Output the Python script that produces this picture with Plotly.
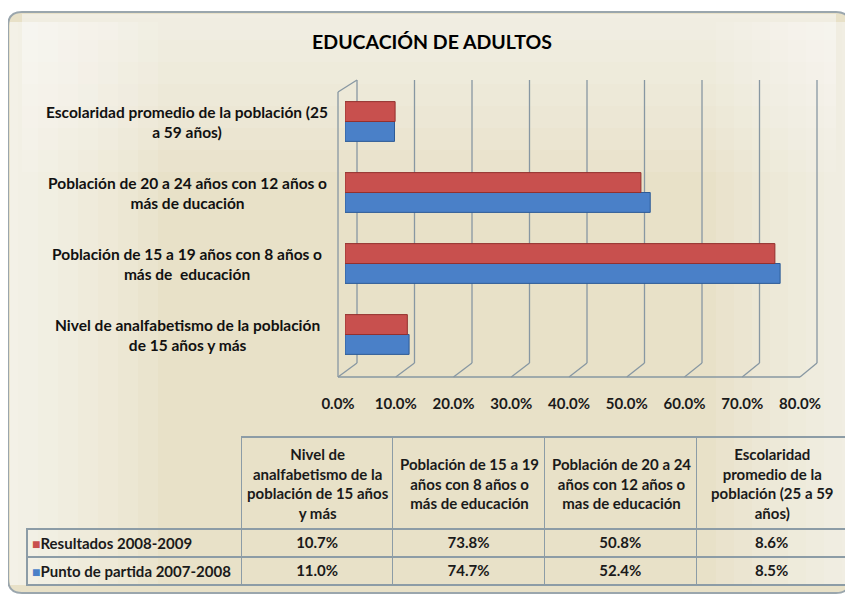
import plotly.graph_objects as go

chart_labels = [
    "Nivel de analfabetismo de la población<br>de 15 años y más",
    "Población de 15 a 19 años con 8 años o<br>más de  educación",
    "Población de 20 a 24 años con 12 años o<br>más de ducación",
    "Escolaridad promedio de la población (25<br>a 59 años)",
]
table_headers = [
    "Nivel de<br>analfabetismo de la<br>población de 15 años<br>y más",
    "Población de 15 a 19<br>años con 8 años o<br>más de educación",
    "Población de 20 a 24<br>años con 12 años o<br>mas de educación",
    "Escolaridad<br>promedio de la<br>población (25 a 59<br>años)",
]
series_names = ["Resultados 2008-2009", "Punto de partida 2007-2008"]
resultados = [10.7, 73.8, 50.8, 8.6]
punto_partida = [11.0, 74.7, 52.4, 8.5]
x_ticks = [0.0, 0.1, 0.2, 0.3, 0.4, 0.5, 0.6, 0.7, 0.8]

RED = "#c8504e"
BLUE = "#4a80c8"
GRID = "#8797a2"
FONT = "Lato"

W, H = 853, 598
OFF = 8  # margen de la pagina


def px(x):
    return (x - OFF) / W


def py(y):
    return 1 - (y - OFF) / H


fig = go.Figure()

# primero la serie azul para que quede abajo en cada grupo
fig.add_trace(go.Bar(
    y=chart_labels, x=[v / 100 for v in punto_partida], orientation="h",
    name=series_names[1], marker=dict(color=BLUE, line=dict(color="#2d5b96", width=1)),
))
fig.add_trace(go.Bar(
    y=chart_labels, x=[v / 100 for v in resultados], orientation="h",
    name=series_names[0], marker=dict(color=RED, line=dict(color="#93302e", width=1)),
))
# eje auxiliar solo para las etiquetas del plano frontal
fig.add_trace(go.Scatter(
    x=x_ticks, y=[chart_labels[0]] * len(x_ticks), xaxis="x2", mode="markers",
    marker=dict(opacity=0), hoverinfo="skip", showlegend=False,
))

# tabla de datos (encabezados y nombres de serie van como anotaciones)
fmt = lambda vals: [f"{v:.1f}%" for v in vals]
line_col = "#8c9ca6"
col_w = [215, 151, 152, 152, 151]
tab_left, tab_top, head_h, row_h = 27, 437, 92, 28
tfont = dict(family=FONT, size=15, color="#1a1a1a", weight="bold")
fig.add_trace(go.Table(
    domain=dict(x=[px(tab_left), px(tab_left + sum(col_w))], y=[py(592), py(tab_top)]),
    columnwidth=col_w,
    header=dict(
        values=[""] * 5,
        fill_color="rgba(0,0,0,0)",
        line=dict(color=["rgba(0,0,0,0)"] + [line_col] * 4, width=1.2),
        height=head_h,
    ),
    cells=dict(
        values=[
            [""] * len(series_names),
            *[[a, b] for a, b in zip(fmt(resultados), fmt(punto_partida))],
        ],
        fill_color="rgba(0,0,0,0)",
        line=dict(color=line_col, width=1.2),
        font=tfont, align="center", height=row_h,
    ),
))

# fondo redondeado
shapes = []
x0, y0, x1, y1, r = px(8), py(12), px(850), py(593), 14
rx, ry = r / W, r / H
path = (f"M {x0+rx},{y0} L {x1-rx},{y0} Q {x1},{y0} {x1},{y0-ry} "
        f"L {x1},{y1+ry} Q {x1},{y1} {x1-rx},{y1} L {x0+rx},{y1} "
        f"Q {x0},{y1} {x0},{y1+ry} L {x0},{y0-ry} Q {x0},{y0} {x0+rx},{y0} Z")
shapes.append(dict(type="path", path=path, xref="paper", yref="paper", layer="below",
                   fillcolor="#e8e1c8", line=dict(color="#9aa6ad", width=2)))
# degradado claro hacia los bordes
for i in range(8):
    shapes.append(dict(type="rect", xref="paper", yref="paper", layer="below",
                       x0=px(10), x1=px(18 + i * 20), y0=py(585), y1=py(22),
                       fillcolor="white", opacity=0.11, line_width=0))
    shapes.append(dict(type="rect", xref="paper", yref="paper", layer="below",
                       x0=px(842 - i * 18), x1=px(848), y0=py(585), y1=py(22),
                       fillcolor="white", opacity=0.09, line_width=0))
    shapes.append(dict(type="rect", xref="paper", yref="paper", layer="below",
                       x0=px(22), x1=px(836), y0=py(14), y1=py(18 + i * 22),
                       fillcolor="white", opacity=0.09, line_width=0))


# paredes y rejilla en perspectiva
def front_x(v):
    return 338 + v / 0.8 * 462


def back_x(v):
    return 357 + v / 0.8 * 460


def seg(xa, ya, xb, yb):
    return dict(type="line", xref="paper", yref="paper", layer="below",
                x0=px(xa), y0=py(ya), x1=px(xb), y1=py(yb),
                line=dict(color=GRID, width=1.3))


for v in x_ticks:
    shapes.append(seg(back_x(v), 363, back_x(v), 80))
    shapes.append(seg(front_x(v), 377, back_x(v), 363))
shapes.append(seg(front_x(0), 377, front_x(0.8), 377))
shapes.append(seg(front_x(0), 377, front_x(0), 92))
shapes.append(seg(front_x(0), 92, back_x(0), 80))

annotations = [
    dict(x=px(187), y=lab, xref="paper", yref="y", text=lab,
         showarrow=False, xanchor="center", align="center",
         font=dict(family=FONT, size=15.5, color="#111", weight="bold"))
    for lab in chart_labels
]
# encabezados de la tabla
edge = tab_left + col_w[0]
for head, w in zip(table_headers, col_w[1:]):
    annotations.append(dict(x=px(edge + w / 2), y=py(tab_top + head_h / 2), xref="paper",
                            yref="paper", text=head, showarrow=False, align="center",
                            xanchor="center", yanchor="middle", font=tfont))
    edge += w
# nombres de serie con su cuadro de color
for i, (c, n) in enumerate(zip([RED, BLUE], series_names)):
    annotations.append(dict(
        x=px(30), y=py(tab_top + head_h + row_h / 2 + row_h * i), xref="paper", yref="paper",
        text=f"<span style='color:{c};font-size:14px'>■</span>{n}", showarrow=False,
        xanchor="left", yanchor="middle", font=tfont))

fig.update_layout(
    width=W, height=H,
    margin=dict(l=0, r=0, t=0, b=0, autoexpand=False),
    paper_bgcolor="white", plot_bgcolor="rgba(0,0,0,0)",
    showlegend=False,
    barmode="group", bargap=0.44, bargroupgap=0,
    title=dict(text="EDUCACIÓN DE ADULTOS", x=px(432), y=py(42),
               xanchor="center", yanchor="middle",
               font=dict(family=FONT, size=19.5, color="#000", weight="bold")),
    xaxis=dict(domain=[px(345), px(811)], range=[0, 0.8], showgrid=False, automargin=False,
               zeroline=False, showticklabels=False, showline=False),
    xaxis2=dict(domain=[px(338), px(800)], range=[0, 0.8],
                anchor="free", position=py(393), tickvals=x_ticks, automargin=False,
                ticktext=[f"{v*100:.1f}%" for v in x_ticks],
                showgrid=False, zeroline=False, showline=False, ticks="",
                tickfont=dict(family=FONT, size=15, color="#1a1a1a", weight="bold")),
    yaxis=dict(domain=[py(370), py(86)], range=[-0.5, 3.5], showgrid=False, automargin=False,
               zeroline=False, showticklabels=False, showline=False),
    shapes=shapes,
    annotations=annotations,
)

fig.write_html("out.html")
